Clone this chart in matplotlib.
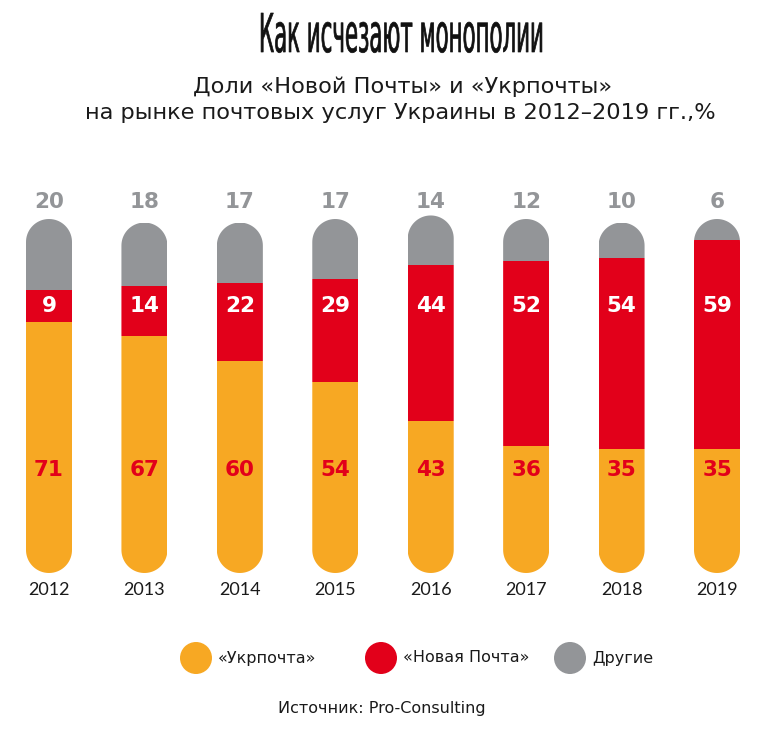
import numpy as np
import matplotlib
matplotlib.use("Agg")
import matplotlib.pyplot as plt
from matplotlib.patches import PathPatch, Circle
from matplotlib.path import Path
from matplotlib import patheffects
from matplotlib.transforms import Affine2D

# данные
years = ['2012', '2013', '2014', '2015', '2016', '2017', '2018', '2019']
ukrposhta = [71, 67, 60, 54, 43, 36, 35, 35]
nova_poshta = [9, 14, 22, 29, 44, 52, 54, 59]
others = [20, 18, 17, 17, 14, 12, 10, 6]

c_orange = '#F7A823'
c_red = '#E2001A'
c_gray = '#939598'
c_text = '#1a1a1a'

plt.rcParams['font.family'] = ['DejaVu Sans']


class Squeeze(patheffects.AbstractPathEffect):
    """сжимает текст по горизонтали (узкий шрифт заголовка)"""
    def __init__(self, sx, cx, lw):
        super().__init__()
        self.sx, self.cx, self.lw = sx, cx, lw

    def draw_path(self, renderer, gc, tpath, affine, rgbFace):
        t = affine + Affine2D().translate(-self.cx, 0).scale(self.sx, 1).translate(self.cx, 0)
        gc0 = renderer.new_gc()
        gc0.copy_properties(gc)
        gc0.set_linewidth(self.lw)
        gc0.set_foreground(rgbFace)
        renderer.draw_path(gc0, tpath, t, rgbFace)
        gc0.restore()


def stadium(xc, w, h, ry):
    # столбик со скруглёнными концами (полукруги сверху и снизу)
    t = np.linspace(0, np.pi, 40)
    top = np.column_stack([xc + w / 2 * np.cos(t), h - ry + ry * np.sin(t)])
    bot = np.column_stack([xc - w / 2 * np.cos(t), ry - ry * np.sin(t)])
    verts = np.vstack([top, bot, top[:1]])
    return Path(verts, closed=True)


W, H = 764, 736
fig = plt.figure(figsize=(W / 100, H / 100), dpi=100)

# оси в пикселях картинки: y от 150 до 610
ax = fig.add_axes([0, 1 - 610 / H, 1, 460 / H])
px_x = 668 / 7
px_y = 3.54
ax.set_xlim(-49 / px_x, 7 + 47 / px_x)
ax.set_ylim(-(610 - 573) / px_y, (573 - 150) / px_y)
ax.axis('off')

x = np.arange(len(years))
bw = 46 / px_x
ry = bw / 2 * px_x / px_y
bottom2 = np.array(ukrposhta)
bottom3 = bottom2 + np.array(nova_poshta)
totals = bottom3 + np.array(others)

for i in range(len(years)):
    clip = PathPatch(stadium(x[i], bw, totals[i], ry), transform=ax.transData,
                     facecolor='none', edgecolor='none')
    ax.add_patch(clip)
    b1 = ax.bar(x[i], ukrposhta[i], bw, color=c_orange, linewidth=0)
    b2 = ax.bar(x[i], nova_poshta[i], bw, bottom=bottom2[i], color=c_red, linewidth=0)
    b3 = ax.bar(x[i], others[i], bw, bottom=bottom3[i], color=c_gray, linewidth=0)
    for b in (b1, b2, b3):
        for p in b:
            p.set_clip_path(clip)

    ax.text(x[i], 29, str(ukrposhta[i]), ha='center', va='center',
            color=c_red, fontsize=15.5, fontweight='bold')
    ax.text(x[i], 75.3, str(nova_poshta[i]), ha='center', va='center',
            color='white', fontsize=15.5, fontweight='bold')
    ax.text(x[i], 104.8, str(others[i]), ha='center', va='center',
            color=c_gray, fontsize=15.5, fontweight='bold')
    ax.text(x[i], -4.8, years[i], ha='center', va='center',
            color=c_text, fontsize=13, family=['Lato', 'DejaVu Sans'])

# заголовок
title_cx = 401.5
title = fig.text(title_cx / W, 1 - 52 / H, 'Как исчезают монополии', ha='center',
                 va='baseline', fontsize=38.5, color='#111111')
fig.canvas.draw()
tw = title.get_window_extent().width
title.set_path_effects([Squeeze(285 / tw, title_cx, 0.5)])

fig.text(403 / W, 1 - 93 / H, 'Доли «Новой Почты» и «Укрпочты»', ha='center',
         va='baseline', fontsize=16.2, color=c_text)
fig.text(400 / W, 1 - 119 / H, 'на рынке почтовых услуг Украины в 2012–2019 гг.,%',
         ha='center', va='baseline', fontsize=16.2, color=c_text)

# легенда
lax = fig.add_axes([0, 0, 1, 1])
lax.set_xlim(0, W)
lax.set_ylim(H, 0)
lax.axis('off')
legend_items = [('«Укрпочта»', c_orange, 196), ('«Новая Почта»', c_red, 381),
                ('Другие', c_gray, 570)]
for label, col, cx in legend_items:
    lax.add_patch(Circle((cx, 658), 16, color=col, linewidth=0))
    lax.text(cx + 22, 658, label, ha='left', va='center', fontsize=11.5,
             color=c_text)

lax.text(382, 708, 'Источник: Pro-Consulting', ha='center', va='center',
         fontsize=11.5, color=c_text)

fig.savefig('out.png', dpi=100, facecolor='white')
